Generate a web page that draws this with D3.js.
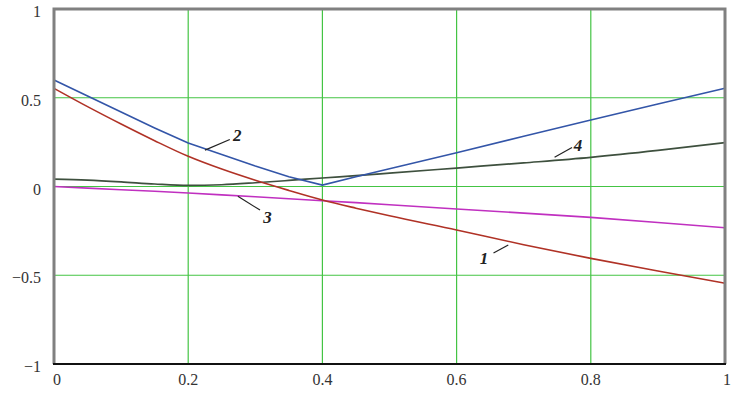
<!DOCTYPE html>
<html>
<head>
    <meta charset="utf-8">
    <title>curves</title>
    <script src="https://d3js.org/d3.v7.min.js"></script>
    <style>
        body { margin: 0; background: #fff; }
        text { font-family: "Liberation Serif", "DejaVu Serif", serif; }
    </style>
</head>
<body>
    <svg width="744" height="393"></svg>
    <script>
        // x positions shared by all curves
        var xs = [0, 0.05, 0.1, 0.15, 0.2, 0.25, 0.3, 0.35, 0.4, 0.45, 0.5, 0.6, 0.7, 0.8, 0.9, 1];

        // curve values
        var curve1 = [0.553, 0.45, 0.352, 0.258, 0.17, 0.098, 0.035, -0.022, -0.076, -0.122, -0.165, -0.245, -0.328, -0.405, -0.476, -0.545];
        var curve2 = [0.6, 0.51, 0.42, 0.33, 0.245, 0.18, 0.115, 0.055, 0.008, 0.055, 0.1, 0.19, 0.283, 0.375, 0.465, 0.553];
        var curve3 = [0, -0.009, -0.018, -0.027, -0.037, -0.047, -0.058, -0.069, -0.08, -0.091, -0.103, -0.127, -0.15, -0.174, -0.203, -0.232];
        var curve4 = [0.042, 0.036, 0.026, 0.014, 0.006, 0.01, 0.021, 0.034, 0.048, 0.061, 0.075, 0.104, 0.133, 0.164, 0.203, 0.247];

        var xTicks = [0, 0.2, 0.4, 0.6, 0.8, 1];
        var yTicks = [-1, -0.5, 0, 0.5, 1];

        // curve labels: number, label position, leader line from/to (data units)
        var labels = [
            { name: "1", at: [0.641, -0.4], from: [0.655, -0.375], to: [0.677, -0.33] },
            { name: "2", at: [0.273, 0.29], from: [0.262, 0.265], to: [0.225, 0.205] },
            { name: "3", at: [0.318, -0.17], from: [0.307, -0.133], to: [0.274, -0.055] },
            { name: "4", at: [0.781, 0.235], from: [0.772, 0.22], to: [0.746, 0.165] }
        ];

        var svg = d3.select("svg");
        var padLeft = 54, padRight = 725, padTop = 9, padBottom = 364;

        var x = d3.scaleLinear().domain([0, 1]).range([padLeft, padRight]);
        var y = d3.scaleLinear().domain([-1, 1]).range([padBottom, padTop]);

        // green grid
        svg.append("g").selectAll("line")
            .data(xTicks.slice(1, -1))
            .enter().append("line")
            .attr("x1", function(d) { return x(d); })
            .attr("x2", function(d) { return x(d); })
            .attr("y1", padTop).attr("y2", padBottom)
            .attr("stroke", "#44c444").attr("stroke-width", 1.2);
        svg.append("g").selectAll("line")
            .data(yTicks.slice(1, -1))
            .enter().append("line")
            .attr("y1", function(d) { return y(d); })
            .attr("y2", function(d) { return y(d); })
            .attr("x1", padLeft).attr("x2", padRight)
            .attr("stroke", "#44c444").attr("stroke-width", 1.2);

        var line = d3.line()
            .x(function(d) { return x(d[0]); })
            .y(function(d) { return y(d[1]); });
        var smooth = d3.line()
            .curve(d3.curveMonotoneX)
            .x(function(d) { return x(d[0]); })
            .y(function(d) { return y(d[1]); });

        function draw(vals, color, width, gen) {
            svg.append("path")
                .datum(xs.map(function(v, i) { return [v, vals[i]]; }))
                .attr("d", gen)
                .attr("fill", "none")
                .attr("stroke", color)
                .attr("stroke-width", width);
        }

        draw(curve3, "#c030c0", 1.6, line);
        draw(curve4, "#3e503e", 1.7, smooth);
        draw(curve1, "#b03226", 1.6, smooth);
        draw(curve2, "#3355a8", 1.6, line);

        // frame
        svg.append("path")
            .attr("d", "M" + padLeft + "," + padBottom + "V" + padTop + "H" + padRight + "V" + padBottom)
            .attr("fill", "none").attr("stroke", "#808080").attr("stroke-width", 3);
        svg.append("line")
            .attr("x1", padLeft - 1).attr("x2", padRight + 1)
            .attr("y1", padBottom).attr("y2", padBottom)
            .attr("stroke", "#111").attr("stroke-width", 2);

        // tick labels
        svg.append("g").selectAll("text")
            .data(yTicks)
            .enter().append("text")
            .attr("x", 41)
            .attr("y", function(d) { return y(d) + 8; })
            .attr("text-anchor", "end")
            .attr("font-size", 16)
            .attr("fill", "#333")
            .text(function(d) { return d < 0 ? "\u2212" + Math.abs(d) : d; });
        svg.append("g").selectAll("text")
            .data(xTicks)
            .enter().append("text")
            .attr("x", function(d) { return x(d) + (d === 0 ? 3 : d === 1 ? 2 : 0); })
            .attr("y", 385)
            .attr("text-anchor", "middle")
            .attr("font-size", 16)
            .attr("fill", "#333")
            .text(function(d) { return d; });

        // curve numbers with leader lines
        var lab = svg.append("g").selectAll("g").data(labels).enter().append("g");
        lab.append("line")
            .attr("x1", function(d) { return x(d.from[0]); })
            .attr("y1", function(d) { return y(d.from[1]); })
            .attr("x2", function(d) { return x(d.to[0]); })
            .attr("y2", function(d) { return y(d.to[1]); })
            .attr("stroke", "#222").attr("stroke-width", 1.2);
        lab.append("text")
            .attr("x", function(d) { return x(d.at[0]); })
            .attr("y", function(d) { return y(d.at[1]) + 6; })
            .attr("text-anchor", "middle")
            .attr("font-size", 17)
            .attr("font-weight", "bold")
            .attr("font-style", "italic")
            .attr("fill", "#222")
            .text(function(d) { return d.name; });
    </script>
</body>
</html>
